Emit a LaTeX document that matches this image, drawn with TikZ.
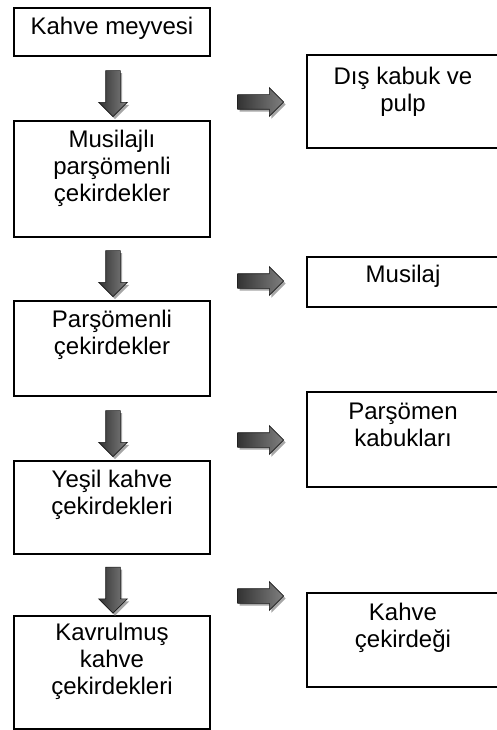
\documentclass[tikz,border=0pt]{standalone}
\usepackage{fontspec}
\setmainfont{Liberation Sans}
\usetikzlibrary{shapes.arrows}
\begin{document}
\begin{tikzpicture}[x=1pt,y=-1pt,
  box/.style={draw=black, line width=2pt, inner sep=0pt, fill=white},
  lbl/.style={anchor=north, inner sep=0pt, align=center, font=\fontsize{24}{27}\selectfont},
  arrbase/.style={single arrow, single arrow head extend=7pt, minimum width=28pt,
     minimum height=46pt, inner xsep=0pt, inner ysep=7pt},
  arr/.style={arrbase, draw=black!90, line width=0.6pt,
     left color=black!80, right color=black!50},
  arrshadow/.style={arrbase, fill=black!35, draw=none},
  darr/.style={arr, rotate=-90},
  darrshadow/.style={arrshadow, rotate=-90}
]
\useasboundingbox (0,0) rectangle (497,730);
\clip (0,0) rectangle (497,730);
\fill[white] (0,0) rectangle (497,730);

% left column boxes
\node[box, minimum width=196pt, minimum height=48pt]  (b1) at (112,32) {};
\node[box, minimum width=196pt, minimum height=116pt] (b2) at (112,179) {};
\node[box, minimum width=196pt, minimum height=95pt]  (b3) at (112,348.5) {};
\node[box, minimum width=196pt, minimum height=93pt]  (b4) at (112,507.5) {};
\node[box, minimum width=196pt, minimum height=113pt] (b5) at (112,672.5) {};

% right column boxes (cut at the right edge)
\node[box, minimum width=223pt, minimum height=93pt] (r1) at (418.5,101.5) {};
\node[box, minimum width=223pt, minimum height=50pt] (r2) at (418.5,282) {};
\node[box, minimum width=223pt, minimum height=95pt] (r3) at (418.5,439.5) {};
\node[box, minimum width=223pt, minimum height=94pt] (r4) at (418.5,640) {};

% texts
\node[lbl] (t1) at (112,17)  {Kahve meyvesi};
\node[lbl] (t2) at (112,130) {Musilajlı\\parşömenli\\çekirdekler};
\node[lbl] (t3) at (112,310) {Parşömenli\\çekirdekler};
\node[lbl] (t4) at (112,470) {Yeşil kahve\\çekirdekleri};
\node[lbl] (t5) at (112,623) {Kavrulmuş\\kahve\\çekirdekleri};
\node[lbl] (s1) at (403,67)  {Dış kabuk ve\\pulp};
\node[lbl] (s2) at (403,265) {Musilaj};
\node[lbl] (s3) at (403,403) {Parşömen\\kabukları};
\node[lbl] (s4) at (403,603) {Kahve\\çekirdeği};

% down arrows with shadows
\node[darrshadow] (d1s) at (115,92.5) {};
\node[darr] (d1) at (113,90) {};
\node[darrshadow] (d2s) at (115,272.5) {};
\node[darr] (d2) at (113,270) {};
\node[darrshadow] (d3s) at (115,432.5) {};
\node[darr] (d3) at (113,430) {};
\node[darrshadow] (d4s) at (115,589) {};
\node[darr] (d4) at (113,586.5) {};

% right arrows with shadows
\node[arrshadow] (a1s) at (259,104.5) {};
\node[arr] (a1) at (257,102) {};
\node[arrshadow] (a2s) at (259,283.5) {};
\node[arr] (a2) at (257,281) {};
\node[arrshadow] (a3s) at (259,442.5) {};
\node[arr] (a3) at (257,440) {};
\node[arrshadow] (a4s) at (259,598.5) {};
\node[arr] (a4) at (257,596) {};
\end{tikzpicture}
\end{document}
